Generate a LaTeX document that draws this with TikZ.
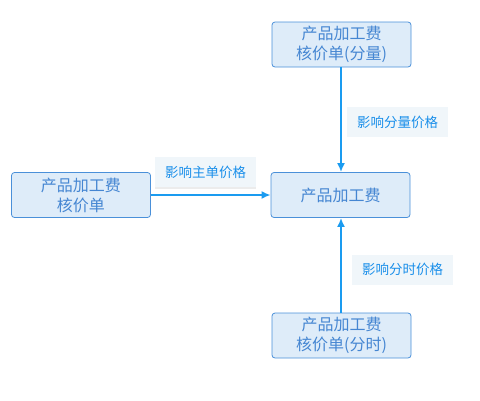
\documentclass[tikz,border=0pt]{standalone}
\usepackage{fontspec}
\setmainfont{Noto Sans CJK SC}
\usepackage{tikz}
\usetikzlibrary{arrows.meta,shadows}

\definecolor{boxfill}{HTML}{DEECF9}
\definecolor{boxline}{HTML}{4A90D9}
\definecolor{boxtext}{HTML}{4586D2}
\definecolor{linkblue}{HTML}{1A9BF0}
\definecolor{tagfill}{HTML}{F0F6FA}
\definecolor{tagtext}{HTML}{1A8FEA}

\tikzset{
  costbox/.style={draw=boxline, fill=boxfill, rounded corners=3pt, line width=0.8pt,
    minimum width=139pt, minimum height=45pt, align=center, text=boxtext,
    font=\fontsize{16}{20}\selectfont, inner sep=0pt},
  tag/.style={fill=tagfill, minimum width=101pt, minimum height=30pt, text=tagtext,
    font=\fontsize{13.5}{15}\selectfont, inner sep=0pt},
  link/.style={draw=linkblue, line width=2pt, -{Latex[length=9pt,width=8pt]}}
}

\begin{document}
\begin{tikzpicture}[x=1pt,y=-1pt]
\useasboundingbox (0,0) rectangle (480,400);
\node[costbox] (top) at (341.5,44.5) {产品加工费\\核价单(分量)};
\node[costbox] (mid) at (340.5,195) {产品加工费};
\node[costbox] (left) at (81,195) {产品加工费\\核价单};
\node[costbox] (bot) at (341.5,335.5) {产品加工费\\核价单(分时)};

\draw[link] (left.east) -- (left.east -| mid.west);
\draw[link] (top.south -| 341,0) -- (mid.north -| 341,0);
\draw[link] (bot.north -| 341,0) -- (mid.south -| 341,0);

\node[tag, drop shadow={shadow xshift=0pt, shadow yshift=-2pt, opacity=0.15}] (main) at (205.5,172) {影响主单价格};
\node[tag] (qty) at (397.5,122) {影响分量价格};
\node[tag] (time) at (402.5,269.5) {影响分时价格};
\end{tikzpicture}
\end{document}
